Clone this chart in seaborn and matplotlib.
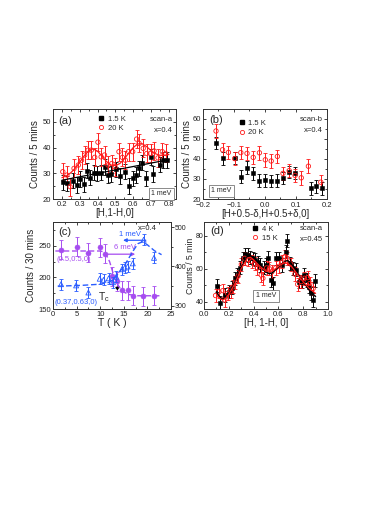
import numpy as np
import pandas as pd
import matplotlib
matplotlib.use("Agg")
import matplotlib.pyplot as plt
from matplotlib.ticker import MultipleLocator
from matplotlib.lines import Line2D
import seaborn as sns

sns.set_theme(style="ticks")
plt.rcParams['font.family'] = ['Liberation Sans', 'DejaVu Sans']

RED = '#ff1a1a'
PURPLE = '#a64cf0'
BLUE = '#2a5cff'

# ---------------- panel (a) ----------------
a_black_x = [0.205, 0.228, 0.261, 0.287, 0.304, 0.324, 0.342, 0.36, 0.38, 0.399, 0.418, 0.44, 0.458, 0.477,
             0.505, 0.527, 0.556, 0.574, 0.597, 0.615, 0.633, 0.652, 0.674, 0.698, 0.711, 0.748, 0.768, 0.787]
a_black_y = [26.5, 26.1, 27.1, 25.4, 27.8, 25.7, 31.0, 28.3, 30.3, 30.0, 30.2, 32.5, 29.3, 29.7,
             31.5, 28.9, 30.6, 25.0, 28.0, 29.3, 31.9, 34.1, 28.0, 36.4, 29.7, 33.4, 35.1, 35.1]
a_red_x = [0.205, 0.228, 0.246, 0.268, 0.292, 0.31, 0.328, 0.347, 0.365, 0.384, 0.402, 0.42, 0.439, 0.458, 0.48,
           0.498, 0.52, 0.539, 0.556, 0.574, 0.597, 0.619, 0.633, 0.656, 0.676, 0.698, 0.717, 0.739, 0.763, 0.782]
a_red_y = [30.6, 29.3, 24.8, 31.9, 33.2, 35.1, 37.1, 39.0, 39.0, 36.2, 42.1, 36.4, 37.1, 33.2, 33.8,
           32.5, 38.4, 36.2, 35.1, 38.4, 38.4, 43.3, 41.6, 39.7, 37.7, 37.7, 38.7, 36.0, 38.4, 37.7]
a_black_err = 3.0
a_red_err = 3.5
a_black_fit_x = [0.2, 0.8]
a_black_fit_y = [27.3, 35.3]
a_red_fit_x = [0.2, 0.225, 0.25, 0.275, 0.3, 0.325, 0.35, 0.375, 0.4, 0.425, 0.45, 0.475, 0.5, 0.525,
               0.55, 0.575, 0.6, 0.625, 0.65, 0.675, 0.7, 0.725, 0.75, 0.775, 0.8]
a_red_fit_y = [28.3, 29.0, 30.2, 32.0, 34.3, 36.8, 38.8, 39.5, 38.6, 36.6, 34.6, 33.2, 33.0, 33.8,
               35.6, 37.9, 40.0, 41.4, 41.5, 40.4, 38.8, 37.6, 37.0, 37.0, 37.3]

# ---------------- panel (b) ----------------
b_black_x = [-0.158, -0.137, -0.098, -0.078, -0.058, -0.038, -0.018, 0.001, 0.02, 0.04, 0.058, 0.078, 0.097,
             0.148, 0.163, 0.185]
b_black_y = [48.0, 40.4, 40.5, 31.2, 35.7, 32.8, 29.2, 29.3, 29.0, 29.1, 30.5, 33.5, 33.0, 25.3, 26.3, 25.4]
b_red_x = [-0.158, -0.137, -0.118, -0.098, -0.078, -0.058, -0.038, -0.018, 0.001, 0.02, 0.04, 0.058, 0.078,
           0.097, 0.117, 0.14, 0.18]
b_red_y = [54.0, 44.6, 43.3, 40.2, 43.2, 42.8, 40.8, 43.1, 39.6, 39.0, 41.3, 32.8, 34.2, 31.8, 30.6, 36.4, 28.4]
b_black_err = 3.2
b_red_err = 3.4

# ---------------- panel (c) ----------------
c_T = [1.6, 5.0, 7.5, 9.9, 11.1, 12.4, 13.5, 14.6, 15.8, 16.9, 19.1, 21.5]
c_purple = [244, 249, 239, 248, 238, 202, 194, 180, 180, 171, 170, 171]
c_purple_err = 15
c_blue_T = [1.7, 4.9, 7.5, 9.9, 10.7, 11.8, 12.7, 13.4, 14.6, 15.2, 15.8, 16.9, 19.2, 21.4]
c_blue = [355, 352, 334, 369, 366, 370, 360, 374, 393, 397, 400, 408, 468, 422]
c_blue_err = 14
c_purple_fit_T = [0.5, 5, 10, 11, 12, 13, 14, 15, 16, 18, 20, 23]
c_purple_fit = [242, 242, 242, 240, 225, 200, 185, 177, 173, 171, 171, 171]
c_blue_fit_T = [1, 6, 10, 12, 13, 14, 15, 16, 17, 18, 19, 20, 21.5, 23]
c_blue_fit = [350, 352, 355, 360, 370, 385, 400, 420, 440, 458, 463, 455, 440, 430]

# ---------------- panel (d) ----------------
d_black_x = [0.107, 0.133, 0.173, 0.2, 0.227, 0.248, 0.267, 0.288, 0.312, 0.333, 0.352, 0.373, 0.395, 0.413,
             0.435, 0.453, 0.48, 0.5, 0.52, 0.541, 0.555, 0.579, 0.605, 0.632, 0.659, 0.672, 0.693, 0.72,
             0.741, 0.765, 0.787, 0.805, 0.827, 0.845, 0.861, 0.88, 0.893]
d_black_y = [49.7, 39.4, 44.0, 46.0, 48.5, 54.2, 56.2, 60.7, 66.4, 68.8, 68.4, 66.8, 66.4, 65.4,
             64.0, 62.3, 60.7, 62.3, 66.8, 53.2, 51.2, 66.4, 66.4, 62.3, 70.5, 77.0, 63.4, 60.3,
             59.3, 52.2, 52.2, 56.2, 53.2, 49.1, 45.1, 41.0, 52.6]
d_red_x = [0.093, 0.12, 0.152, 0.168, 0.19, 0.215, 0.235, 0.253, 0.275, 0.301, 0.328, 0.355, 0.385, 0.41,
           0.43, 0.461, 0.475, 0.505, 0.527, 0.55, 0.578, 0.605, 0.632, 0.653, 0.672, 0.7, 0.733, 0.755,
           0.785, 0.81, 0.835, 0.853, 0.88]
d_red_y = [43.7, 46.0, 46.7, 41.0, 45.0, 46.0, 49.0, 51.8, 55.5, 62.7, 66.4, 65.8, 64.5, 63.0,
           60.5, 56.2, 54.2, 60.5, 60.0, 58.5, 60.5, 61.5, 64.2, 67.4, 66.4, 62.8, 56.8, 50.6,
           52.2, 54.2, 54.6, 51.0, 48.0]
d_err = 4.0
d_black_fit_x = [0.1, 0.125, 0.15, 0.175, 0.2, 0.25, 0.3, 0.35, 0.375, 0.4, 0.45, 0.5, 0.525, 0.55,
                 0.6, 0.65, 0.675, 0.7, 0.75, 0.8, 0.85, 0.9]
d_black_fit_y = [46, 43, 41.5, 42.5, 45, 52, 61, 67.5, 68, 66.5, 62, 58, 57, 57.5,
                 61, 64.5, 65, 63.5, 58, 52, 47, 43]
d_red_fit_x = [0.1, 0.125, 0.15, 0.175, 0.2, 0.25, 0.3, 0.35, 0.375, 0.4, 0.45, 0.5, 0.55, 0.6,
               0.65, 0.7, 0.75, 0.8, 0.85, 0.9]
d_red_fit_y = [44, 42, 41, 42, 44.5, 51, 60, 66.5, 67, 65.5, 61.5, 58.5, 58.5, 61.5,
               64, 62, 57, 52, 48, 45]

fig = plt.figure(figsize=(3.72, 5.26), dpi=100)
ax_a = fig.add_axes([53/372, (526-199)/526, 123/372, 90/526])
ax_b = fig.add_axes([203/372, (526-199)/526, 124/372, 90/526])
ax_c = fig.add_axes([53/372, (526-309)/526, 118/372, 87/526])
ax_d = fig.add_axes([204/372, (526-309)/526, 124/372, 87/526])

TICK_FS = 5.5
LAB_FS = 7


def style(ax, xmaj, xmin, ymaj, ymin, right=True):
    ax.xaxis.set_major_locator(MultipleLocator(xmaj))
    ax.xaxis.set_minor_locator(MultipleLocator(xmin))
    ax.yaxis.set_major_locator(MultipleLocator(ymaj))
    ax.yaxis.set_minor_locator(MultipleLocator(ymin))
    ax.tick_params(axis='both', which='both', labelsize=TICK_FS, width=0.6, colors='#222222', pad=1.2)
    ax.tick_params(axis='x', which='both', direction='in', top=True)
    ax.tick_params(axis='y', which='both', direction='in', right=right)
    ax.tick_params(which='major', length=2.5)
    ax.tick_params(which='minor', length=1.5)
    for s in ax.spines.values():
        s.set_linewidth(0.7)
        s.set_color('#333333')
        s.set_visible(True)


def points(ax, x, y, err, color, filled, marker, size=10):
    ax.errorbar(x, y, yerr=err, fmt='none', ecolor=color, elinewidth=0.7, capsize=1.3, capthick=0.6, zorder=2)
    df = pd.DataFrame({'x': x, 'y': y})
    if filled:
        sns.scatterplot(data=df, x='x', y='y', ax=ax, marker=marker, s=size, color=color,
                        edgecolor=color, linewidth=0.4, zorder=3, legend=False)
    else:
        sns.scatterplot(data=df, x='x', y='y', ax=ax, marker=marker, s=size, facecolor='none',
                        edgecolor=color, linewidth=0.6, zorder=3, legend=False)


def fitline(ax, x, y, color, ls='-', lw=0.9):
    df = pd.DataFrame({'x': x, 'y': y})
    sns.lineplot(data=df, x='x', y='y', ax=ax, color=color, linestyle=ls, linewidth=lw, zorder=4,
                 estimator=None, sort=False, legend=False)


def small_legend(ax, labels, anchor):
    h = [Line2D([], [], marker='s', color='black', ls='none', markersize=2.6),
         Line2D([], [], marker='o', markerfacecolor='none', markeredgecolor=RED, color=RED, ls='none',
                markersize=3, markeredgewidth=0.6)]
    ax.legend(h, labels, loc='upper left', bbox_to_anchor=anchor, frameon=False, fontsize=5.5,
              handlelength=1.0, handletextpad=0.4, labelspacing=0.25, borderaxespad=0, borderpad=0)


def meV_box(ax, x, y):
    ax.text(x, y, '1 meV', transform=ax.transAxes, fontsize=5, ha='center', va='center',
            bbox=dict(boxstyle='square,pad=0.35', fc='white', ec='#777777', lw=0.6), zorder=6)


# ---- (a)
points(ax_a, a_black_x, a_black_y, a_black_err, 'black', True, 's')
points(ax_a, a_red_x, a_red_y, a_red_err, RED, False, 'o')
fitline(ax_a, a_black_fit_x, a_black_fit_y, 'black')
fitline(ax_a, a_red_fit_x, a_red_fit_y, RED)
ax_a.set_xlim(0.15, 0.84)
ax_a.set_ylim(20, 55)
style(ax_a, 0.1, 0.05, 10, 5)
ax_a.set_xlabel('[H,1-H,0]', fontsize=LAB_FS, labelpad=0)
ax_a.set_ylabel('Counts / 5 mins', fontsize=LAB_FS, labelpad=2)
ax_a.text(0.04, 0.87, '(a)', transform=ax_a.transAxes, fontsize=8, va='center')
ax_a.text(0.97, 0.88, 'scan-a', transform=ax_a.transAxes, fontsize=5.5, ha='right', va='center')
ax_a.text(0.97, 0.76, 'x=0.4', transform=ax_a.transAxes, fontsize=5.5, ha='right', va='center')
small_legend(ax_a, ['1.5 K', '20 K'], (0.36, 0.93))
meV_box(ax_a, 0.88, 0.06)

# ---- (b)
points(ax_b, b_black_x, b_black_y, b_black_err, 'black', True, 's')
points(ax_b, b_red_x, b_red_y, b_red_err, RED, False, 'o')
ax_b.set_xlim(-0.2, 0.2)
ax_b.set_ylim(20, 65)
style(ax_b, 0.1, 0.05, 10, 5)
ax_b.tick_params(axis='x', which='both', pad=2.2)
ax_b.set_xlabel('[H+0.5-δ,H+0.5+δ,0]', fontsize=LAB_FS, labelpad=0)
ax_b.set_ylabel('Counts / 5 mins', fontsize=LAB_FS, labelpad=1)
ax_b.text(0.05, 0.88, '(b)', transform=ax_b.transAxes, fontsize=8, va='center')
ax_b.text(0.97, 0.88, 'scan-b', transform=ax_b.transAxes, fontsize=5.5, ha='right', va='center')
ax_b.text(0.97, 0.76, 'x=0.4', transform=ax_b.transAxes, fontsize=5.5, ha='right', va='center')
small_legend(ax_b, ['1.5 K', '20 K'], (0.28, 0.88))
meV_box(ax_b, 0.15, 0.09)

# ---- (c)
ax_c2 = ax_c.twinx()
points(ax_c, c_T, c_purple, c_purple_err, PURPLE, True, 'o', size=13)
fitline(ax_c, c_purple_fit_T, c_purple_fit, PURPLE, ls=(0, (4, 2)), lw=1.0)
points(ax_c2, c_blue_T, c_blue, c_blue_err, BLUE, False, '^', size=13)
fitline(ax_c2, c_blue_fit_T, c_blue_fit, BLUE, ls=(0, (4, 2)), lw=1.0)
ax_c.set_xlim(0, 25)
ax_c.set_ylim(150, 288)
ax_c2.set_ylim(292, 513)
style(ax_c, 5, 2.5, 50, 25, right=False)
style(ax_c2, 5, 2.5, 100, 50, right=True)
ax_c2.tick_params(axis='y', which='both', direction='out', left=False, right=True, pad=0.5, labelsize=5)
ax_c2.tick_params(axis='y', which='major', length=2.0)
ax_c2.set_ylabel('')
ax_c.set_xlabel('T ( K )', fontsize=LAB_FS + 0.5, labelpad=0)
ax_c.set_ylabel('Counts / 30 mins', fontsize=LAB_FS, labelpad=2)
ax_c.text(0.1, 0.89, '(c)', transform=ax_c.transAxes, fontsize=8, va='center', ha='center')
ax_c.text(0.8, 0.93, 'x=0.4', transform=ax_c.transAxes, fontsize=5.5, ha='center', va='center')
ax_c.text(0.65, 0.86, '1 meV', transform=ax_c.transAxes, fontsize=5.5, color=BLUE, ha='center', va='center')
ax_c.annotate('', xy=(0.57, 0.79), xytext=(0.81, 0.79), xycoords='axes fraction',
              arrowprops=dict(arrowstyle='-|>', color=BLUE, lw=0.9, mutation_scale=5))
ax_c.text(0.61, 0.71, '6 meV', transform=ax_c.transAxes, fontsize=5.5, color=PURPLE, ha='center', va='center')
ax_c.annotate('', xy=(0.72, 0.63), xytext=(0.43, 0.63), xycoords='axes fraction',
              arrowprops=dict(arrowstyle='-|>', color=PURPLE, lw=0.9, mutation_scale=5))
ax_c.text(0.03, 0.57, '(0.5,0.5,0)', transform=ax_c.transAxes, fontsize=5.5, color=PURPLE, va='center')
ax_c.text(0.01, 0.07, '(0.37,0.63,0)', transform=ax_c.transAxes, fontsize=5.5, color=BLUE, va='center')
ax_c.annotate('T$_\\mathregular{c}$', xy=(14.2, 186), xytext=(0.43, 0.14), textcoords='axes fraction',
              fontsize=7.5, ha='center', va='center',
              arrowprops=dict(arrowstyle='-|>', color='black', lw=0.8, mutation_scale=5, shrinkA=4, shrinkB=0))

# ---- (d)
points(ax_d, d_black_x, d_black_y, d_err, 'black', True, 's')
points(ax_d, d_red_x, d_red_y, d_err, RED, False, 'o')
fitline(ax_d, d_black_fit_x, d_black_fit_y, 'black', lw=1.0)
fitline(ax_d, d_red_fit_x, d_red_fit_y, RED, lw=0.9)
ax_d.set_xlim(0, 1)
ax_d.set_ylim(35.5, 88.5)
style(ax_d, 0.2, 0.1, 20, 10)
ax_d.tick_params(axis='y', which='both', pad=0.6, labelsize=5)
ax_d.set_xlabel('[H, 1-H, 0]', fontsize=LAB_FS, labelpad=0)
ax_d.set_ylabel('Counts / 5 min', fontsize=6.3)
ax_d.yaxis.set_label_coords(-0.071, 0.5)
ax_d.text(0.05, 0.9, '(d)', transform=ax_d.transAxes, fontsize=8, va='center')
ax_d.text(0.96, 0.93, 'scan-a', transform=ax_d.transAxes, fontsize=5.5, ha='right', va='center')
ax_d.text(0.96, 0.8, 'x=0.45', transform=ax_d.transAxes, fontsize=5.5, ha='right', va='center')
small_legend(ax_d, ['4 K', '15 K'], (0.38, 0.96))
meV_box(ax_d, 0.5, 0.15)

fig.savefig('out.png', dpi=100)
